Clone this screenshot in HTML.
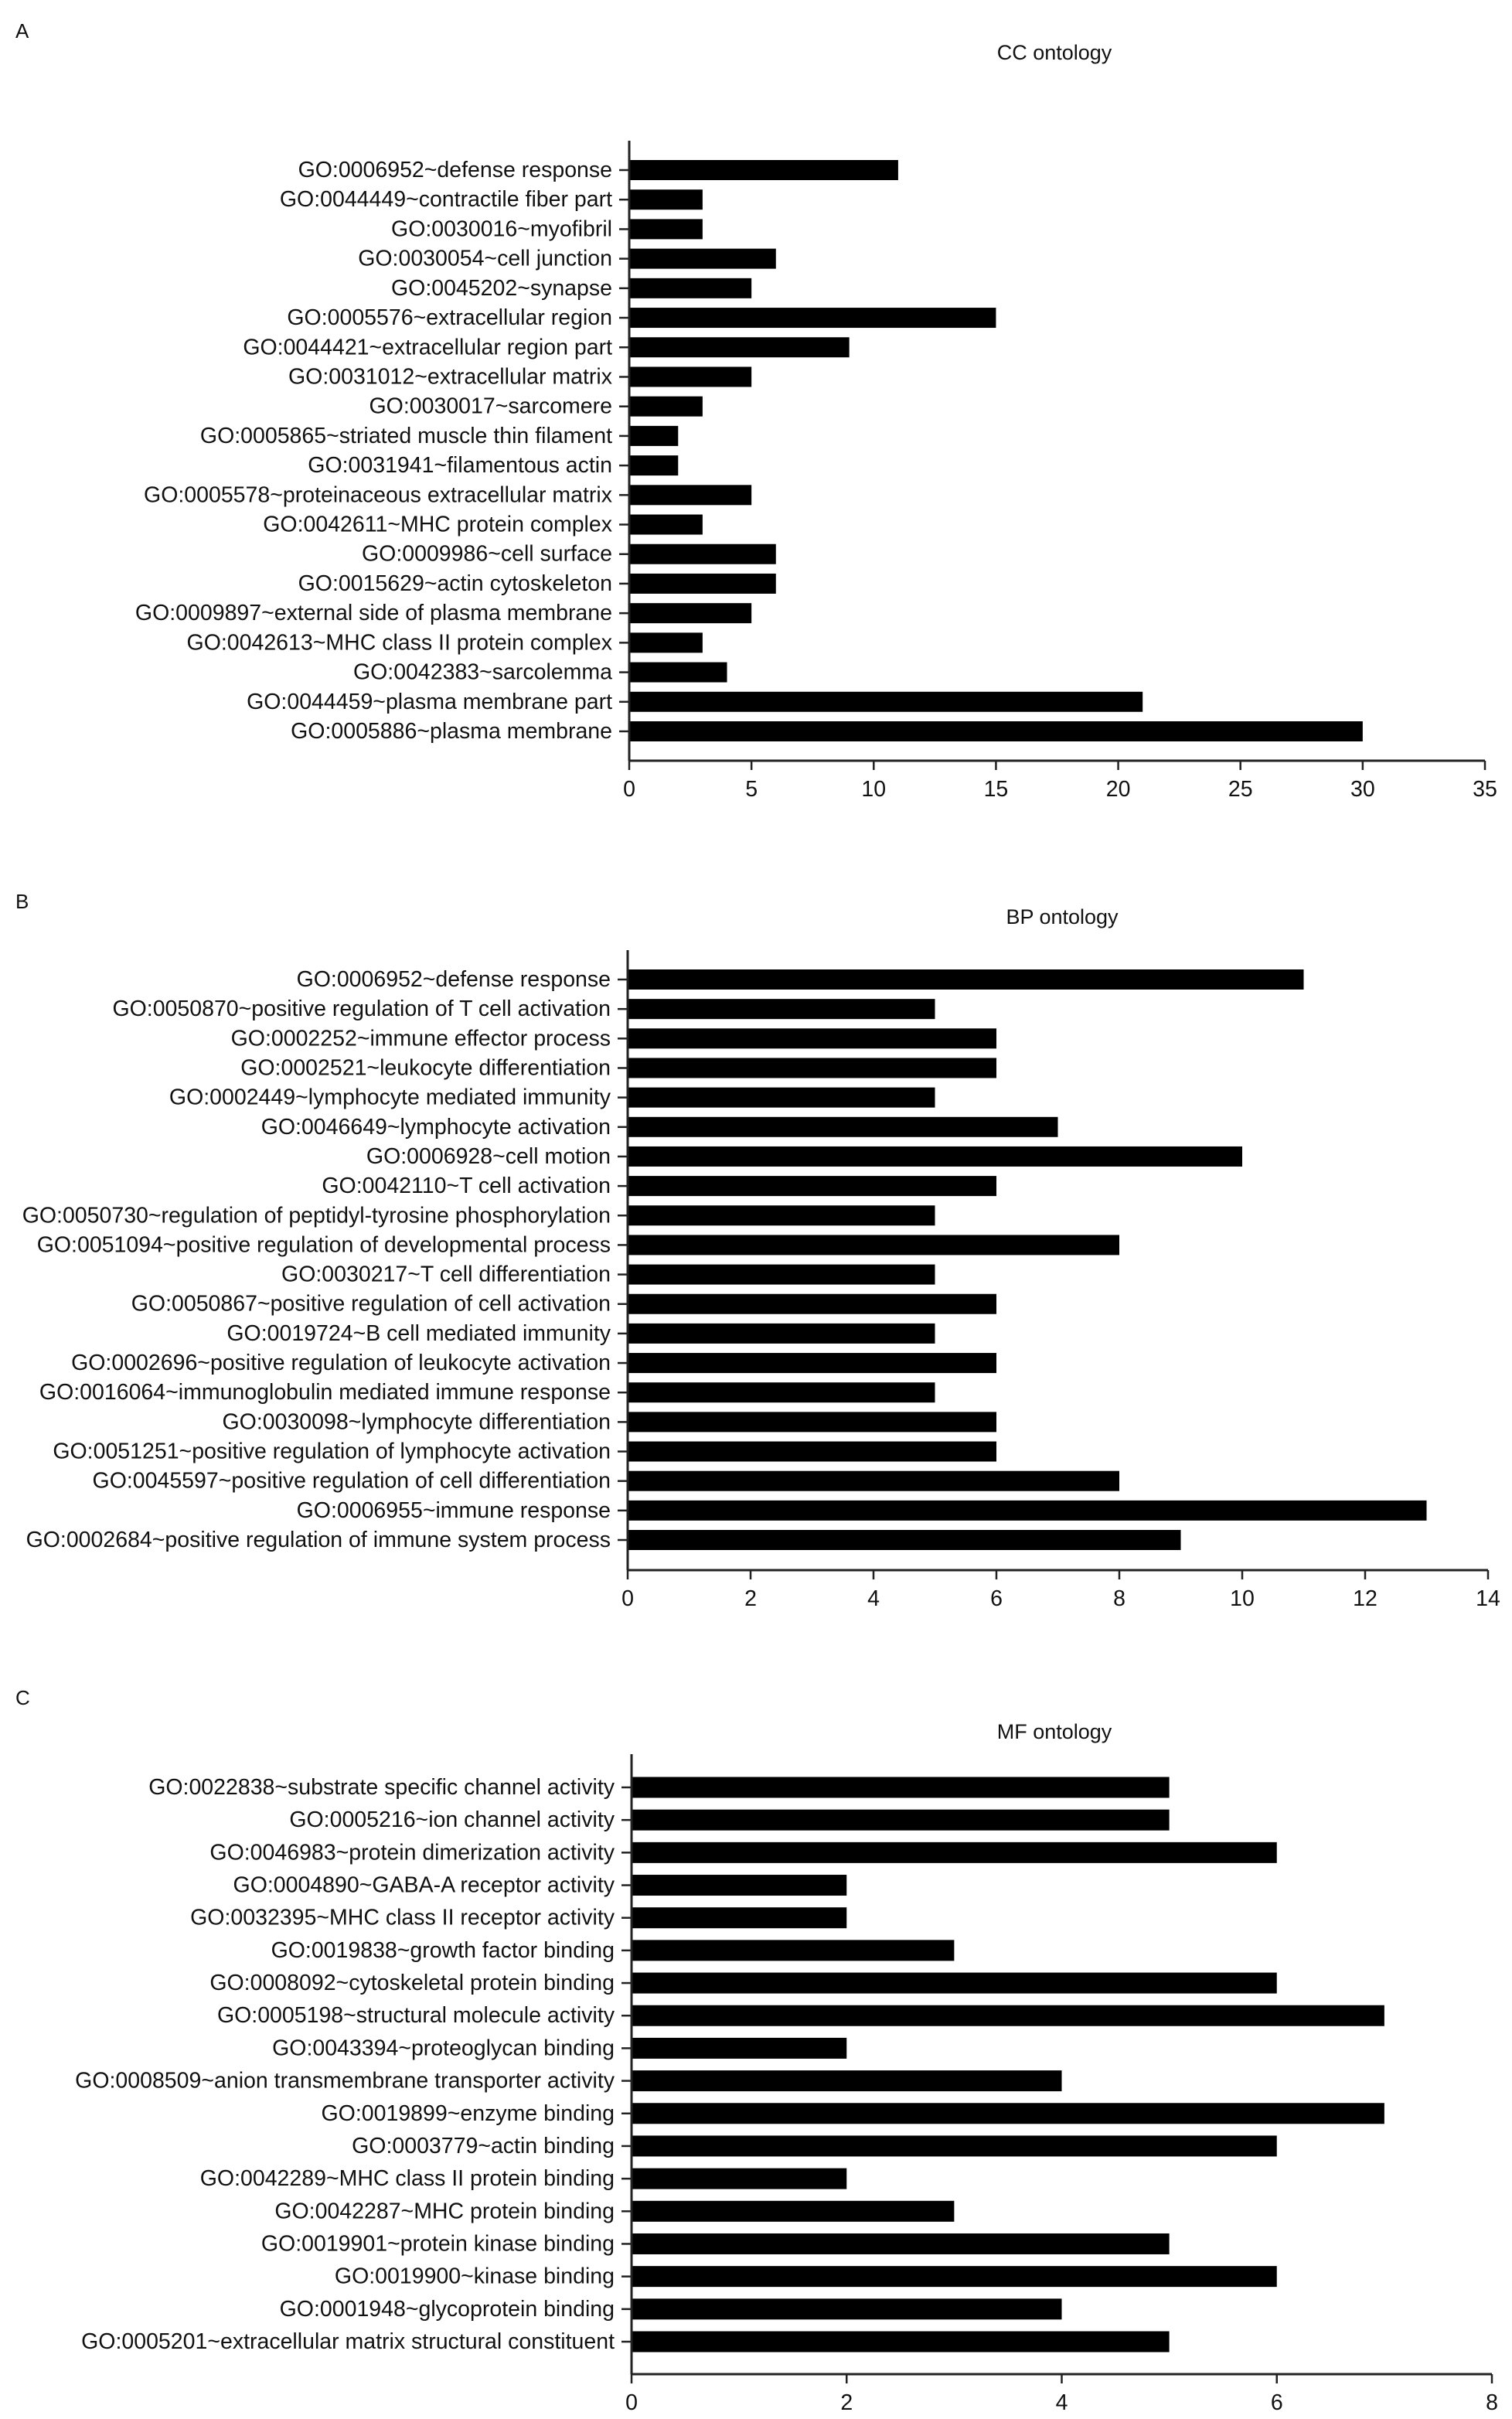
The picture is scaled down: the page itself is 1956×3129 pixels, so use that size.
<!DOCTYPE html>
<html><head><meta charset="utf-8">
<style>
html,body{margin:0;padding:0;background:#fff;}
svg{display:block;}
text{font-family:"Liberation Sans",Arial,sans-serif;fill:#111;}
</style></head>
<body>
<svg id="chart" width="1956" height="3129" viewBox="0 0 1956 3129" xmlns="http://www.w3.org/2000/svg">
<rect width="1956" height="3129" fill="#fff"/>
</svg>
<script>
const ccCategories = ["GO:0006952~defense response","GO:0044449~contractile fiber part","GO:0030016~myofibril","GO:0030054~cell junction","GO:0045202~synapse","GO:0005576~extracellular region","GO:0044421~extracellular region part","GO:0031012~extracellular matrix","GO:0030017~sarcomere","GO:0005865~striated muscle thin filament","GO:0031941~filamentous actin","GO:0005578~proteinaceous extracellular matrix","GO:0042611~MHC protein complex","GO:0009986~cell surface","GO:0015629~actin cytoskeleton","GO:0009897~external side of plasma membrane","GO:0042613~MHC class II protein complex","GO:0042383~sarcolemma","GO:0044459~plasma membrane part","GO:0005886~plasma membrane"];
const ccValues = [11,3,3,6,5,15,9,5,3,2,2,5,3,6,6,5,3,4,21,30];
const ccTicks = [0,5,10,15,20,25,30,35];

const bpCategories = ["GO:0006952~defense response","GO:0050870~positive regulation of T cell activation","GO:0002252~immune effector process","GO:0002521~leukocyte differentiation","GO:0002449~lymphocyte mediated immunity","GO:0046649~lymphocyte activation","GO:0006928~cell motion","GO:0042110~T cell activation","GO:0050730~regulation of peptidyl-tyrosine phosphorylation","GO:0051094~positive regulation of developmental process","GO:0030217~T cell differentiation","GO:0050867~positive regulation of cell activation","GO:0019724~B cell mediated immunity","GO:0002696~positive regulation of leukocyte activation","GO:0016064~immunoglobulin mediated immune response","GO:0030098~lymphocyte differentiation","GO:0051251~positive regulation of lymphocyte activation","GO:0045597~positive regulation of cell differentiation","GO:0006955~immune response","GO:0002684~positive regulation of immune system process"];
const bpValues = [11,5,6,6,5,7,10,6,5,8,5,6,5,6,5,6,6,8,13,9];
const bpTicks = [0,2,4,6,8,10,12,14];

const mfCategories = ["GO:0022838~substrate specific channel activity","GO:0005216~ion channel activity","GO:0046983~protein dimerization activity","GO:0004890~GABA-A receptor activity","GO:0032395~MHC class II receptor activity","GO:0019838~growth factor binding","GO:0008092~cytoskeletal protein binding","GO:0005198~structural molecule activity","GO:0043394~proteoglycan binding","GO:0008509~anion transmembrane transporter activity","GO:0019899~enzyme binding","GO:0003779~actin binding","GO:0042289~MHC class II protein binding","GO:0042287~MHC protein binding","GO:0019901~protein kinase binding","GO:0019900~kinase binding","GO:0001948~glycoprotein binding","GO:0005201~extracellular matrix structural constituent"];
const mfValues = [5,5,6,2,2,3,6,7,2,4,7,6,2,3,5,6,4,5];
const mfTicks = [0,2,4,6,8];

const svg = document.getElementById('chart');
const NS = 'http://www.w3.org/2000/svg';
function mk(tag, attrs, parent){
  const e = document.createElementNS(NS, tag);
  for (const k in attrs) e.setAttribute(k, attrs[k]);
  (parent||svg).appendChild(e);
  return e;
}
const FS = 28.5;
function label(g, x, y, str, anchor, fs){
  const t = mk('text', {x:x, y:y, 'font-size':fs||FS, 'text-anchor':anchor, 'dominant-baseline':'central'}, g);
  t.textContent = str;
  return t;
}

function panel(cfg, cats, vals, ticks){
  const g = mk('g', {});
  
  
  const letter = label(g, 20, cfg.letterY, cfg.letter, 'start', 26);
  
  
  const title = label(g, cfg.titleX, cfg.titleY, cfg.title, 'middle', 27);
  
  
  const x0 = cfg.x0, x1 = cfg.x1, max = ticks[ticks.length-1];
  const xs = v => x0 + (x1 - x0) * v / max;
  const n = cats.length;
  const ys = i => cfg.yFirst + (cfg.yLast - cfg.yFirst) * i / (n - 1);
  for (let i = 0; i < n; i++){
    const r = mk('rect', {x:x0, y:ys(i)-cfg.bh/2, width:xs(vals[i])-x0, height:cfg.bh, fill:'#000'}, g);
    
    
    mk('line', {x1:x0-13, x2:x0, y1:ys(i), y2:ys(i), stroke:'#222', 'stroke-width':2.5}, g);
    const t = label(g, x0-22, ys(i), cats[i], 'end');
    
    
  }
  const ya = mk('line', {x1:x0, x2:x0, y1:cfg.yTop, y2:cfg.yAxis, stroke:'#222', 'stroke-width':3}, g);
  
  
  const xa = mk('line', {x1:x0, x2:x1, y1:cfg.yAxis, y2:cfg.yAxis, stroke:'#222', 'stroke-width':3}, g);
  
  
  for (const tv of ticks){
    mk('line', {x1:xs(tv), x2:xs(tv), y1:cfg.yAxis, y2:cfg.yAxis+12, stroke:'#222', 'stroke-width':2.5}, g);
    const t = label(g, xs(tv), cfg.yAxis+37, String(tv), 'middle');
    
    
  }
}

panel({name:'cc', letter:'A', letterY:40, title:'CC ontology', titleX:1364, titleY:68,
  x0:814, x1:1921, yTop:182, yFirst:220, yLast:946, yAxis:984, bh:26}, ccCategories, ccValues, ccTicks);
panel({name:'bp', letter:'B', letterY:1166, title:'BP ontology', titleX:1374, titleY:1186,
  x0:812, x1:1925, yTop:1229, yFirst:1267, yLast:1992, yAxis:2031, bh:26}, bpCategories, bpValues, bpTicks);
panel({name:'mf', letter:'C', letterY:2196, title:'MF ontology', titleX:1364, titleY:2240,
  x0:817, x1:1930, yTop:2269, yFirst:2312, yLast:3029, yAxis:3071, bh:27}, mfCategories, mfValues, mfTicks);
</script>
</body></html>
